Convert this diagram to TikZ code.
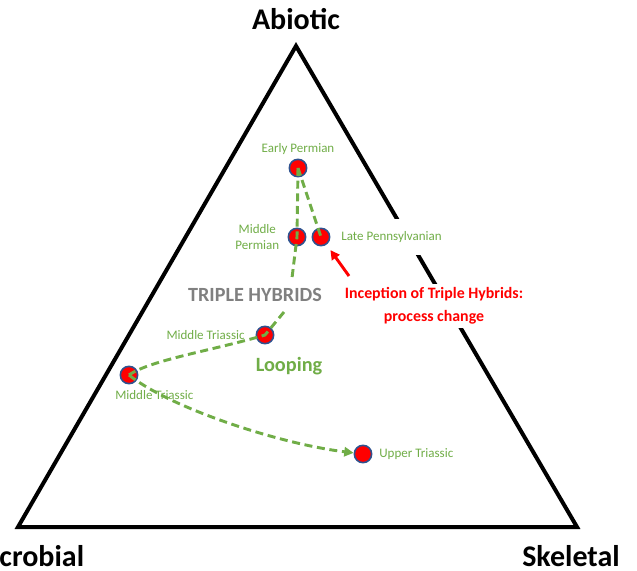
\documentclass[tikz,border=0pt]{standalone}
\usepackage{fontspec}
\setmainfont{Carlito}
\usetikzlibrary{arrows.meta}
\definecolor{leafgreen}{HTML}{70AD47}
\definecolor{ringblue}{HTML}{2F528F}
\definecolor{hybridgray}{HTML}{808080}

\begin{document}
\begin{tikzpicture}[x=0.75pt, y=-0.75pt,
	era/.style={circle, fill=red, draw=ringblue, line width=1.2pt, minimum size=13pt, inner sep=0pt},
	age/.style={text=leafgreen, font=\fontsize{9.75}{11.5}\selectfont, align=center, inner sep=0pt},
	corner/.style={font=\bfseries\fontsize{22.5}{25}\selectfont},
	trend/.style={leafgreen, line width=2.2pt, dash pattern=on 6pt off 3.5pt}]
	\useasboundingbox (0,0) rectangle (637,571);
	\coordinate (A) at (296,46);
	\coordinate (M) at (18,527);
	\coordinate (S) at (577,527);
	\draw [line width=3pt] (A) -- (M) -- (S) -- cycle;
	\node [corner] (abiotic) at (296,19) {Abiotic};
	\node [corner] (microbial) at (25,556) {Microbial};
	\node [corner] (skeletal) at (571,556) {Skeletal};
	\node [era, label={[age, label distance=3pt]above:Early Permian}] (EP) at (298,168) {};
	\node [era, label={[age, label distance=6pt]left:Middle\\Permian}] (MP) at (297,237) {};
	\node [era, label={[age, fill=white, inner ysep=9pt, label distance=8pt]right:Late Pennsylvanian}] (LP) at (321,237) {};
	\node [era, label={[age, label distance=8pt]left:Middle Triassic}] (MT) at (265,335) {};
	\node [era, label={[age, label distance=4pt, xshift=19pt]below:Middle Triassic}] (MT2) at (129,375) {};
	\node [era, label={[age, label distance=5pt]right:Upper Triassic}] (UT) at (363,454) {};
	\coordinate (mpEnd) at (292,278);
	\coordinate (mtStart) at (284,312);
	\draw [trend] (EP.center) -- (LP.center);
	\draw [trend] (EP.center) -- (MP.center) -- (mpEnd);
	\draw [trend] (mtStart) -- (MT.center) .. controls (215,350) and (150,360) .. (MT2.center);
	\draw [trend, -{Triangle[length=7pt, width=7pt]}] (MT2.center) .. controls (170,408) and (280,444) .. (UT);
	\node [text=hybridgray, font=\bfseries\fontsize{15.1}{17}\selectfont] (hybrids) at (255,295) {TRIPLE HYBRIDS};
	\node [text=leafgreen, font=\bfseries\fontsize{15.2}{17}\selectfont] (looping) at (289,366) {Looping};
	\node [text=red, fill=white, align=center, inner sep=3pt, font=\bfseries\fontsize{11.9}{17}\selectfont] (inception) at (434,306) {Inception of Triple Hybrids:\\process change};
	\coordinate (incTail) at (349,276);
	\draw [red, line width=2.2pt, -{Triangle[length=7pt, width=7pt]}, shorten >=5pt] (incTail) -- (LP);
\end{tikzpicture}
\end{document}
